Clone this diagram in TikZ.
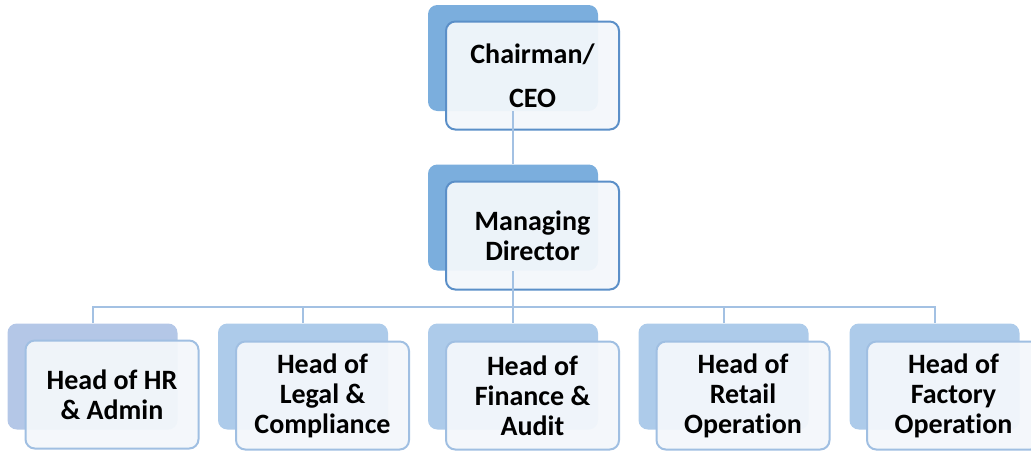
\documentclass[tikz,border=0pt]{standalone}
\usepackage{fontspec}
\setmainfont{Carlito}[Ligatures=NoCommon]
\definecolor{backtop}{HTML}{7BAEDD}
\definecolor{backhr}{HTML}{B4C7E7}
\definecolor{backbot}{HTML}{ADCBEA}
\definecolor{edgetop}{HTML}{5B8FC8}
\definecolor{edgebot}{HTML}{A0BFE2}
\definecolor{frontfill}{HTML}{F3F7FB}
\definecolor{linkc}{HTML}{A3C1E3}
\begin{document}
\begin{tikzpicture}[x=0.75pt,y=-0.75pt,
  backbox/.style={rectangle,rounded corners=7pt,minimum width=127.5pt,minimum height=79.5pt,inner sep=0pt},
  frontbox/.style={rectangle,rounded corners=7pt,minimum width=129.75pt,minimum height=81pt,inner sep=0pt,
    line width=1.5pt,fill=frontfill,fill opacity=0.95,text opacity=1,align=center,
    font=\fontsize{21}{22.5}\selectfont\bfseries},
  toptext/.style={font=\fontsize{21}{33}\selectfont\bfseries},
  link/.style={draw=linkc,line width=1.5pt}]
\useasboundingbox (0,0) rectangle (1031,451);
\clip (0,0) rectangle (1031,451);
% back boxes
\node[backbox,fill=backtop] (ceob) at (513,58) {};
\node[backbox,fill=backtop] (mdb) at (513,217.5) {};
\node[backbox,fill=backhr] (hrb) at (92.5,376.5) {};
\node[backbox,fill=backbot] (lgb) at (303,376.5) {};
\node[backbox,fill=backbot] (fnb) at (513,376.5) {};
\node[backbox,fill=backbot] (rtb) at (723.5,376.5) {};
\node[backbox,fill=backbot] (fcb) at (934.5,376.5) {};
% front boxes
\node[frontbox,draw=edgetop,toptext] (ceo) at (532.5,75.5) {Chairman/\\CEO};
\node[frontbox,draw=edgetop] (md) at (532.5,235.5) {Managing\\Director};
\node[frontbox,draw=edgebot] (hr) at (112,394.5) {Head of HR\\\& Admin};
\node[frontbox,draw=edgebot] (lg) at (322.5,395.5) {Head of\\Legal \&\\Compliance};
\node[frontbox,draw=edgebot] (fn) at (532.5,395.5) {Head of\\Finance \&\\Audit};
\node[frontbox,draw=edgebot] (rt) at (743,395.5) {Head of\\Retail\\Operation};
\node[frontbox,draw=edgebot] (fc) at (953.5,395.5) {Head of\\Factory\\Operation};
% connectors
\coordinate (bus) at (513,307);
\draw[link] (ceob.south) -- (mdb.north);
\draw[link] (mdb.south) -- (mdb.south |- bus);
\draw[link] (hrb.north) -- (hrb.north |- bus) -- (fcb.north |- bus) -- (fcb.north);
\draw[link] (lgb.north) -- (lgb.north |- bus);
\draw[link] (fnb.north) -- (fnb.north |- bus);
\draw[link] (rtb.north) -- (rtb.north |- bus);
\end{tikzpicture}
\end{document}
